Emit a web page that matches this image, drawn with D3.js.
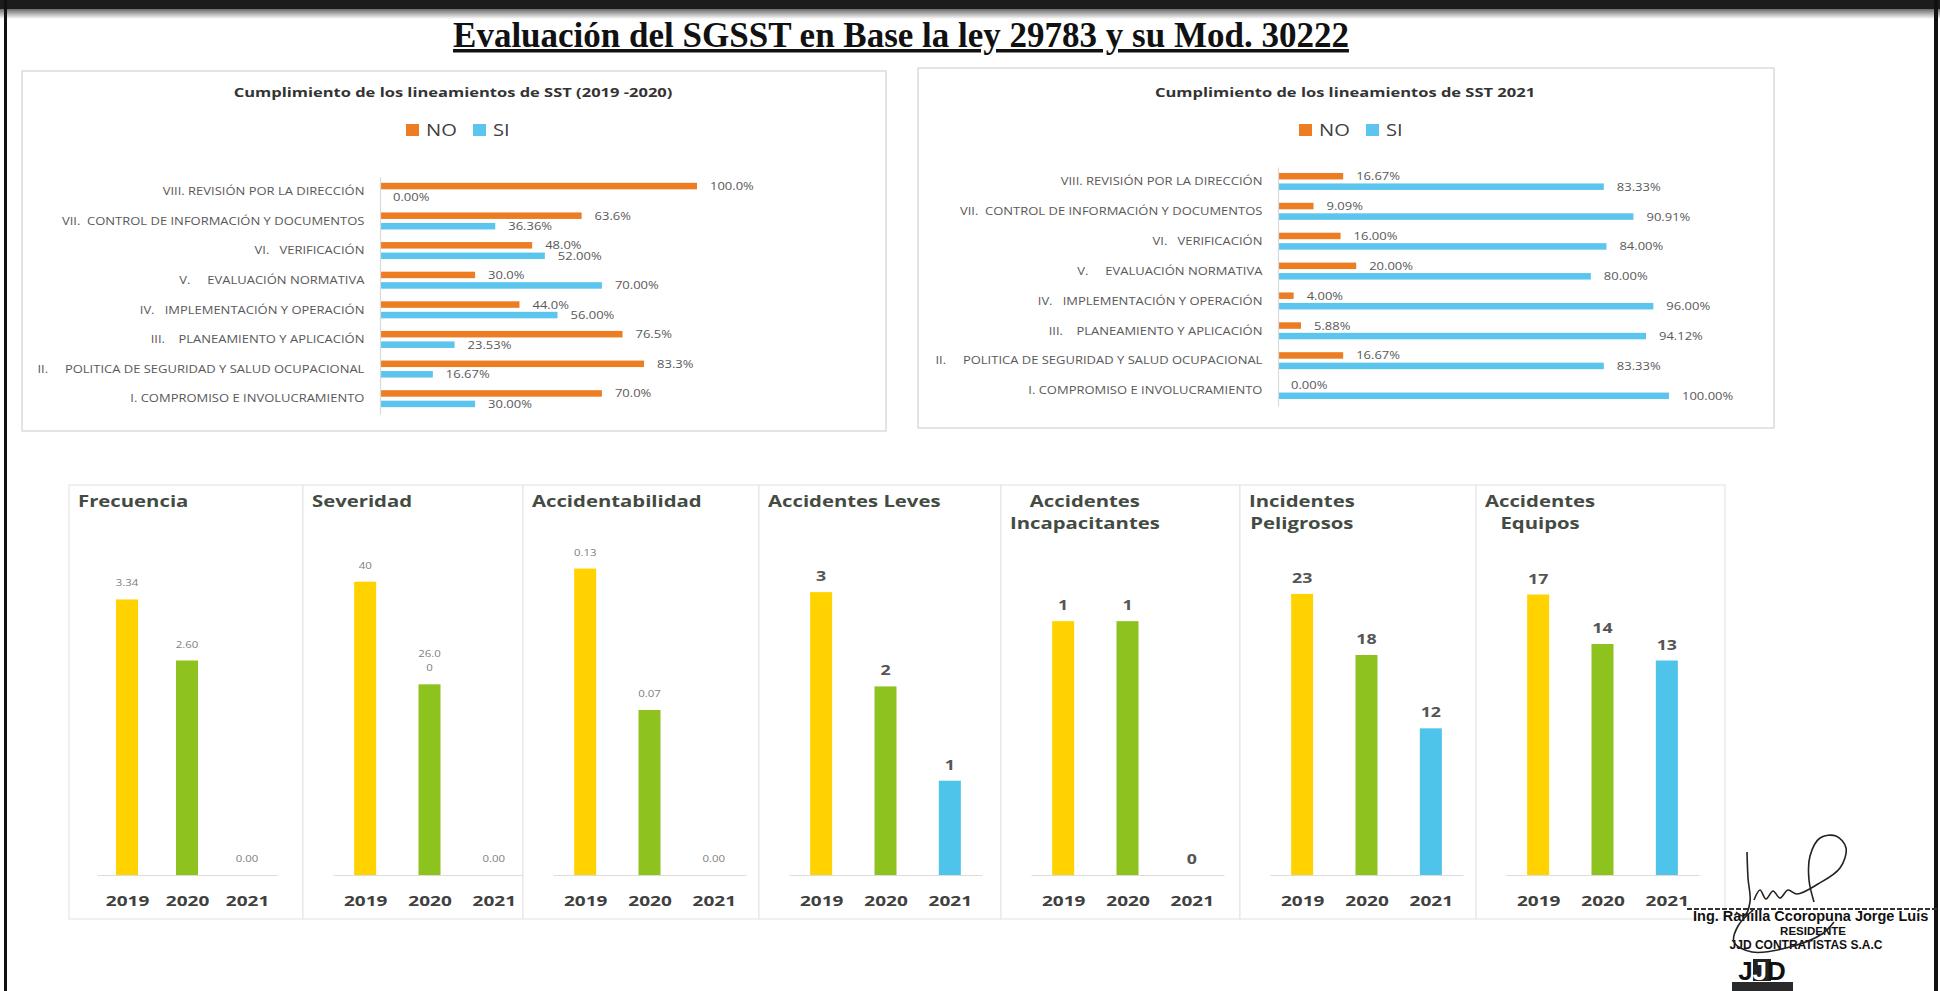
<!DOCTYPE html>
<html><head><meta charset="utf-8">
<script src="https://cdn.jsdelivr.net/npm/d3@7"></script>
<style>
html,body{margin:0;padding:0;background:#fff;}
svg{display:block;}
text{white-space:pre;}
</style></head>
<body>
<svg id="chart" width="1940" height="991"></svg>
<script>
// ================= DATA =================
const mainTitle = "Evaluación del SGSST en Base la ley 29783 y su Mod. 30222";

// Top panels: compliance with SST guidelines (percent)
const lineamientos = [
  "VIII. REVISIÓN POR LA DIRECCIÓN",
  "VII.  CONTROL DE INFORMACIÓN Y DOCUMENTOS",
  "VI.   VERIFICACIÓN",
  "V.     EVALUACIÓN NORMATIVA",
  "IV.   IMPLEMENTACIÓN Y OPERACIÓN",
  "III.    PLANEAMIENTO Y APLICACIÓN",
  "II.     POLITICA DE SEGURIDAD Y SALUD OCUPACIONAL",
  "I. COMPROMISO E INVOLUCRAMIENTO"
];
const series = ["NO", "SI"];
const no2019_2020 = [100.0, 63.6, 48.0, 30.0, 44.0, 76.5, 83.3, 70.0];
const si2019_2020 = [0.00, 36.36, 52.00, 70.00, 56.00, 23.53, 16.67, 30.00];
const no2021 = [16.67, 9.09, 16.00, 20.00, 4.00, 5.88, 16.67, 0.00];
const si2021 = [83.33, 90.91, 84.00, 80.00, 96.00, 94.12, 83.33, 100.00];
const title2019_2020 = "Cumplimiento de los lineamientos de SST (2019 -2020)";
const title2021 = "Cumplimiento de los lineamientos de SST 2021";

// Bottom panels: indicators per year
const years = ["2019", "2020", "2021"];
const indicadores = ["Frecuencia", "Severidad", "Accidentabilidad", "Accidentes Leves",
  "Accidentes\nIncapacitantes", "Incidentes\nPeligrosos", "Accidentes\nEquipos"];
const frecuencia = [3.34, 2.60, 0.00];
const severidad = [40, 26.00, 0.00];
const accidentabilidad = [0.13, 0.07, 0.00];
const accidentesLeves = [3, 2, 1];
const accidentesIncapacitantes = [1, 1, 0];
const incidentesPeligrosos = [23, 18, 12];
const accidentesEquipos = [17, 14, 13];
const severidadLabels = ["40", "26.0\n0", "0.00"];
const ejeMaximo = [4, 45, 0.14, 3.5, 1.3, 27, 20];

// ================= STYLE =================
const SANS = "'Open Sans', 'DejaVu Sans', sans-serif";
const topColor = {NO: "#ED7D22", SI: "#5BC5EE"};
const yearColor = {"2019": "#FFD200", "2020": "#8DC21F", "2021": "#4EC4EA"};
const SXT = 1.3;   // horizontal stretch of the scanned top charts
const SXB = 1.27;  // horizontal stretch of the scanned bottom charts

const svg = d3.select("#chart");
const W = 1940, H = 991;
svg.append("rect").attr("width", W).attr("height", H).attr("fill", "#fff");

function stext(parent, x, y, str, o) {
  return parent.append("text")
    .attr("transform", `translate(${x},${y}) scale(${o.sx || 1},1)`)
    .attr("font-family", o.family || SANS)
    .attr("font-size", o.size)
    .attr("font-weight", o.weight || "normal")
    .attr("fill", o.fill || "#404040")
    .attr("text-anchor", o.anchor || "start")
    .text(str);
}

// ================= FRAME =================
const defs = svg.append("defs");
const grad = defs.append("linearGradient").attr("id", "topfade")
  .attr("x1", 0).attr("x2", 0).attr("y1", 0).attr("y2", 1);
grad.append("stop").attr("offset", "0%").attr("stop-color", "#6a6a6a");
grad.append("stop").attr("offset", "100%").attr("stop-color", "#ffffff");
svg.append("rect").attr("x", 0).attr("y", 0).attr("width", W).attr("height", 9).attr("fill", "#1c1c1c");
svg.append("rect").attr("x", 0).attr("y", 9).attr("width", W).attr("height", 10).attr("fill", "url(#topfade)");
svg.append("rect").attr("x", 4).attr("y", 0).attr("width", 3).attr("height", H).attr("fill", "#111");
svg.append("rect").attr("x", 1934).attr("y", 0).attr("width", 4).attr("height", H).attr("fill", "#111");

// ================= MAIN TITLE =================
svg.append("text").attr("x", 901).attr("y", 47).attr("text-anchor", "middle")
  .attr("font-family", "'Liberation Serif', 'Times New Roman', serif")
  .attr("font-weight", "bold").attr("font-size", 35)
  .attr("text-decoration", "underline").attr("fill", "#111")
  .text(mainTitle);

// ================= TOP PANELS =================
function lineamientosPanel(cfg) {
  const g = svg.append("g");
  g.append("rect").attr("x", cfg.box[0]).attr("y", cfg.box[1])
    .attr("width", cfg.box[2] - cfg.box[0]).attr("height", cfg.box[3] - cfg.box[1])
    .attr("fill", "#fff").attr("stroke", "#d6d6d6").attr("stroke-width", 1.3);

  stext(g, cfg.titleX, 97, cfg.title, {size: 13, weight: "bold", sx: 1.27, anchor: "middle", fill: "#333"});

  // legend
  const legendItems = series.map((s, i) => ({s, dx: i === 0 ? -52 : 15}));
  const lg = g.append("g").attr("transform", `translate(${cfg.legendX},130)`);
  lg.selectAll("rect").data(legendItems).join("rect")
    .attr("x", d => d.dx).attr("y", -6).attr("width", 13).attr("height", 12)
    .attr("fill", d => topColor[d.s]);
  lg.selectAll("text").data(legendItems).join("text")
    .attr("transform", d => `translate(${d.dx + 20},6) scale(${SXT},1)`)
    .attr("font-family", SANS).attr("font-size", 15.5).attr("fill", "#404040")
    .text(d => d.s);

  const x = d3.scaleLinear().domain([0, 100]).range(cfg.xRange);
  const y = d3.scaleBand().domain(lineamientos).range(cfg.yRange);
  const sub = d3.scaleBand().domain(series).range([-9, 8]).paddingInner(0.38);

  const rows = lineamientos.map((c, i) => ({cat: c, NO: cfg.no[i], SI: cfg.si[i]}));
  const flat = rows.flatMap(r => series.map(s => ({cat: r.cat, s, v: r[s]})));

  g.selectAll("rect.bar").data(flat).join("rect").attr("class", "bar")
    .attr("x", x(0))
    .attr("y", d => y(d.cat) + y.bandwidth() / 2 + sub(d.s))
    .attr("width", d => x(d.v) - x(0))
    .attr("height", sub.bandwidth())
    .attr("fill", d => topColor[d.s]);

  g.selectAll("text.val").data(flat).join("text").attr("class", "val")
    .attr("transform", d => `translate(${x(d.v) + 13},${y(d.cat) + y.bandwidth() / 2 + sub(d.s) + sub.bandwidth() / 2 + 4}) scale(${SXT},1)`)
    .attr("font-family", SANS).attr("font-size", 10).attr("fill", "#595959")
    .text(d => cfg.fmt[d.s](d.v) + "%");

  const ax = g.append("g").attr("transform", `translate(${x(0)},0)`)
    .call(d3.axisLeft(y).tickSize(0).tickPadding(12));
  ax.select(".domain").attr("stroke", "#d9d9d9").attr("stroke-width", 1.2);
  ax.selectAll(".tick text")
    .attr("font-family", SANS).attr("font-size", 10).attr("fill", "#595959")
    .attr("transform", `scale(${SXT},1)`).style("white-space", "pre");
}

lineamientosPanel({
  box: [22, 71, 886, 431], title: title2019_2020, titleX: 453, legendX: 458,
  xRange: [380, 697], yRange: [177, 414],
  no: no2019_2020, si: si2019_2020,
  fmt: {NO: d3.format(".1f"), SI: d3.format(".2f")}
});
lineamientosPanel({
  box: [918, 68, 1774, 428], title: title2021, titleX: 1345, legendX: 1351,
  xRange: [1278, 1669], yRange: [167, 406],
  no: no2021, si: si2021,
  fmt: {NO: d3.format(".2f"), SI: d3.format(".2f")}
});

// ================= BOTTOM PANELS =================
const valores = [frecuencia, severidad, accidentabilidad, accidentesLeves,
  accidentesIncapacitantes, incidentesPeligrosos, accidentesEquipos];
const panelEdges = [69, 303, 523, 759, 1001, 1240, 1476, 1725];
const BASE = 875, PLOT_H = 330, BOX_TOP = 485, BOX_BOTTOM = 919;

valores.forEach((vals, i) => {
  const l = panelEdges[i], r = panelEdges[i + 1];
  const g = svg.append("g");
  g.append("rect").attr("x", l).attr("y", BOX_TOP).attr("width", r - l).attr("height", BOX_BOTTOM - BOX_TOP)
    .attr("fill", "#fff").attr("stroke", "#e6e6e6").attr("stroke-width", 1.2);

  // title (one or two lines; lines centred on the widest one)
  const lines = indicadores[i].split("\n");
  const tg = g.append("g");
  const tnodes = lines.map((ln, k) => stext(tg, 0, 507 + k * 22, ln,
    {size: 16, weight: "bold", sx: SXB, fill: "#434b43", anchor: "middle"}));
  const widths = tnodes.map(t => t.node().getComputedTextLength() * SXB);
  const maxW = d3.max(widths);
  tnodes.forEach((t, k) => t.attr("transform", `translate(${l + 9 + maxW / 2},${507 + k * 22}) scale(${SXB},1)`));

  const x = d3.scalePoint().domain(years)
    .range(i === 0 ? [l + 28, l + 208] : [l + 30, l + 223]).padding(0.5);
  const y = d3.scaleLinear().domain([0, ejeMaximo[i]]).range([BASE, BASE - PLOT_H]);
  const data = years.map((yr, k) => ({yr, v: vals[k], k}));

  g.selectAll("rect.bar").data(data).join("rect").attr("class", "bar")
    .attr("x", d => x(d.yr) - 11).attr("width", 22)
    .attr("y", d => y(d.v)).attr("height", d => BASE - y(d.v))
    .attr("fill", d => yearColor[d.yr]);

  const small = i < 3;
  const fmt = d3.format(".2f");
  const labelOf = d => i === 1 ? severidadLabels[d.k] : (small ? fmt(d.v) : String(d.v));
  const lab = g.selectAll("text.val").data(data).join("text").attr("class", "val")
    .attr("transform", d => {
      const n = labelOf(d).split("\n").length;
      return `translate(${x(d.yr)},${y(d.v) - (small ? 13 : 11) - (n - 1) * 14}) scale(${SXB},1)`;
    })
    .attr("text-anchor", "middle").attr("font-family", SANS)
    .attr("font-size", small ? 9 : 14).attr("font-weight", small ? "normal" : "bold")
    .attr("fill", small ? "#808080" : "#555");
  lab.each(function(d) {
    const parts = labelOf(d).split("\n");
    d3.select(this).selectAll("tspan").data(parts).join("tspan")
      .attr("x", 0).attr("dy", (p, j) => j === 0 ? 0 : 14).text(p => p);
  });

  const ax = g.append("g").attr("transform", `translate(0,${BASE})`)
    .call(d3.axisBottom(x).tickSize(0).tickPadding(20));
  ax.select(".domain").attr("stroke", "#dcdcdc").attr("stroke-width", 1.2);
  ax.selectAll(".tick text").attr("font-family", SANS).attr("font-size", 15)
    .attr("font-weight", "bold").attr("fill", "#404040")
    .attr("transform", `scale(${SXB},1)`);
});

// ================= SIGNATURE BLOCK =================
const sig = svg.append("g");
sig.append("line").attr("x1", 1687).attr("x2", 1937).attr("y1", 909).attr("y2", 909)
  .attr("stroke", "#333").attr("stroke-width", 2).attr("stroke-dasharray", "5,2");
const sigFont = "'Liberation Sans', Arial, sans-serif";
sig.append("text").attr("x", 1693).attr("y", 921).attr("font-family", sigFont)
  .attr("font-weight", "bold").attr("font-size", 14.5).attr("fill", "#111")
  .text("Ing. Ranilla Ccoropuna Jorge Luis");
sig.append("text").attr("x", 1813).attr("y", 935).attr("text-anchor", "middle").attr("font-family", sigFont)
  .attr("font-weight", "bold").attr("font-size", 11.5).attr("fill", "#111").text("RESIDENTE");
sig.append("text").attr("x", 1806).attr("y", 949).attr("text-anchor", "middle").attr("font-family", sigFont)
  .attr("font-weight", "bold").attr("font-size", 12).attr("fill", "#111").text("JJD CONTRATISTAS S.A.C");
// logo
sig.append("rect").attr("x", 1753).attr("y", 959).attr("width", 18).attr("height", 22).attr("fill", "#222");
const logo = sig.append("text").attr("x", 1762).attr("y", 980).attr("text-anchor", "middle")
  .attr("font-family", sigFont).attr("font-weight", "bold").attr("font-size", 26);
logo.append("tspan").attr("fill", "#111").text("J");
logo.append("tspan").attr("fill", "#fff").text("J");
logo.append("tspan").attr("fill", "#111").text("D");
sig.append("rect").attr("x", 1732).attr("y", 982).attr("width", 61).attr("height", 9).attr("fill", "#2a2a2a");
// handwritten stroke (decoration)
const firma1 = [[1747, 852], [1748, 878], [1750, 902], [1744, 916], [1736, 912]];
const firma2 = [[1754, 900], [1760, 890], [1766, 899], [1773, 891], [1780, 898], [1788, 890], [1797, 894],
  [1818, 884], [1840, 868], [1846, 848], [1836, 836], [1820, 838], [1810, 856], [1809, 880], [1814, 902]];
const firma3 = [[1752, 911], [1738, 926], [1734, 942], [1752, 952], [1790, 947], [1822, 934], [1834, 922]];
const lineGen = d3.line().curve(d3.curveCatmullRom);
[firma1, firma2, firma3].forEach(p => sig.append("path").attr("d", lineGen(p))
  .attr("fill", "none").attr("stroke", "#222").attr("stroke-width", 1.6));
</script>
</body></html>
